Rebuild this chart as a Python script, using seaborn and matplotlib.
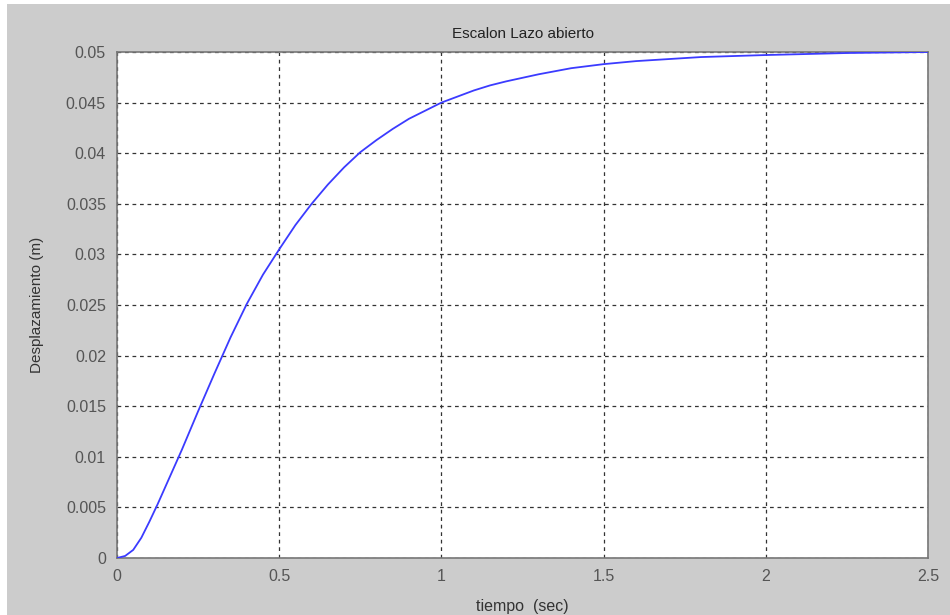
import matplotlib
matplotlib.use("Agg")
import matplotlib.pyplot as plt
from matplotlib.patches import Rectangle
import seaborn as sns
import pandas as pd

# data
tiempo = [0, 0.025, 0.05, 0.075, 0.1, 0.125, 0.15, 0.2, 0.25, 0.3, 0.35, 0.4, 0.45, 0.5, 0.55,
          0.6, 0.65, 0.7, 0.75, 0.8, 0.85, 0.9, 0.95, 1.0, 1.05, 1.1, 1.15, 1.2, 1.3, 1.4,
          1.5, 1.6, 1.7, 1.8, 1.9, 2.0, 2.25, 2.5]
desplazamiento = [0, 0.0002, 0.0008, 0.0020, 0.0036, 0.0053, 0.0071, 0.0107, 0.0145, 0.0182,
                  0.0218, 0.0251, 0.0280, 0.0305, 0.0329, 0.0350, 0.0369, 0.0386, 0.0401,
                  0.0413, 0.0424, 0.0434, 0.0442, 0.0450, 0.0456, 0.0462, 0.0467, 0.0471,
                  0.0478, 0.0484, 0.0488, 0.0491, 0.0493, 0.0495, 0.0496, 0.0497, 0.0499, 0.0500]
x_ticks = [0, 0.5, 1, 1.5, 2, 2.5]
x_tick_labels = ["0", "0.5", "1", "1.5", "2", "2.5"]
y_ticks = [0, 0.005, 0.01, 0.015, 0.02, 0.025, 0.03, 0.035, 0.04, 0.045, 0.05]
y_tick_labels = ["0", "0.005", "0.01", "0.015", "0.02", "0.025", "0.03", "0.035", "0.04", "0.045", "0.05"]

df = pd.DataFrame({"t": tiempo, "y": desplazamiento})

sns.set_theme(style="white")
plt.rcParams["font.family"] = ["Liberation Sans", "DejaVu Sans"]

fig = plt.figure(figsize=(9.5, 6.15), dpi=100, facecolor="white")
fig.patches.append(Rectangle((7 / 950, 0), 1, 1 - 4 / 615, transform=fig.transFigure,
                             facecolor="#cccccc", edgecolor="none", zorder=-10))
ax = fig.add_axes([117 / 950, 1 - 558 / 615, (928 - 117) / 950, (558 - 52) / 615])
ax.set_facecolor("white")

sns.lineplot(data=df, x="t", y="y", ax=ax, color="#3b3bff", linewidth=1.3, zorder=3)

ax.set_xlim(0, 2.5)
ax.set_ylim(0, 0.05)
ax.set_xticks(x_ticks)
ax.set_xticklabels(x_tick_labels)
ax.set_yticks(y_ticks)
ax.set_yticklabels(y_tick_labels)
ax.tick_params(direction="in", length=5, width=1, color="#444444", labelcolor="#555555",
               labelsize=11.5, pad=8)
ax.grid(True, color="#333333", linestyle=(0, (3, 3)), linewidth=0.9)
for s in ax.spines.values():
    s.set_color("#777777")
    s.set_linewidth(1.2)

ax.set_title("Escalon Lazo abierto", fontsize=11, color="#222222", pad=10)
ax.set_xlabel("tiempo  (sec)", fontsize=11.5, color="#333333", labelpad=11)
ax.set_ylabel("Desplazamiento (m)", fontsize=11, color="#333333", labelpad=16)

fig.savefig("out.png", dpi=100, facecolor=fig.get_facecolor())
